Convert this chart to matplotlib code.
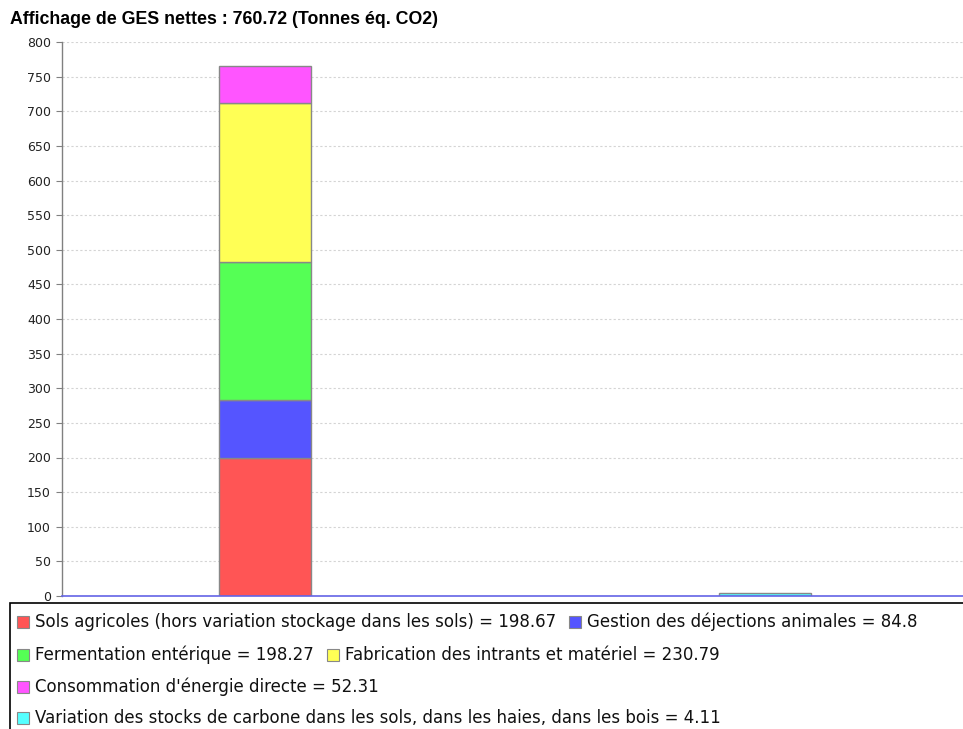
import matplotlib
matplotlib.use("Agg")
import matplotlib.pyplot as plt
from matplotlib.patches import Rectangle

# Emission categories, stacked on the first column, and the carbon stock change on the second
categories = ["Émissions", "Stockage"]
series_names = [
    "Sols agricoles (hors variation stockage dans les sols)",
    "Gestion des déjections animales",
    "Fermentation entérique",
    "Fabrication des intrants et matériel",
    "Consommation d'énergie directe",
    "Variation des stocks de carbone dans les sols, dans les haies, dans les bois",
]
series_values = [198.67, 84.8, 198.27, 230.79, 52.31, 4.11]
series_category = [0, 0, 0, 0, 0, 1]
series_colors = ["#ff5555", "#5555ff", "#55ff55", "#ffff55", "#ff55ff", "#55ffff"]
net_total = 760.72
title_text = f"Affichage de GES nettes : {net_total} (Tonnes éq. CO2)"
y_ticks = list(range(0, 801, 50))

# Legend rows (indices into the series)
legend_rows = [[0, 1], [2, 3], [4], [5]]

W, H = 963, 729
fig = plt.figure(figsize=(W / 100, H / 100), dpi=100)
fig.patch.set_facecolor("white")

# Plot area in pixel coordinates
left_px, top_px, bottom_px, right_px = 62, 42, 596, 968
ax = fig.add_axes([left_px / W, (H - bottom_px) / H,
                   (right_px - left_px) / W, (bottom_px - top_px) / H])

bar_width = 0.184
bottoms = [0.0] * len(categories)
for name, val, cat, col in zip(series_names, series_values, series_category, series_colors):
    ax.bar(cat, val, bottom=bottoms[cat], width=bar_width, color=col,
           edgecolor="#888888", linewidth=1.0, zorder=3)
    bottoms[cat] += val

ax.set_xlim(-0.406, 1.406)
ax.set_ylim(0, 800)
ax.set_yticks(y_ticks)
ax.set_yticklabels([str(t) for t in y_ticks], fontsize=9, family="DejaVu Sans",
                   color="#222222")
ax.set_xticks([])
ax.yaxis.grid(True, color="#d4d4d4", linestyle=(0, (2, 2)), linewidth=0.8, zorder=0)
ax.tick_params(axis="y", length=4, width=0.8, color="#808080", pad=4)

for s in ["top", "right"]:
    ax.spines[s].set_visible(False)
ax.spines["left"].set_color("#808080")
ax.spines["left"].set_linewidth(1.0)
ax.spines["bottom"].set_color("#6464e6")
ax.spines["bottom"].set_linewidth(1.2)
ax.spines["bottom"].set_zorder(4)

# Title
fig.text(10 / W, 1 - 19 / H, title_text, fontsize=12.8, fontweight="bold",
         family="Liberation Sans", ha="left", va="center")

# Legend frame
fig.patches.append(Rectangle((10 / W, -0.05), 1.2, (H - 603) / H + 0.05,
                             transform=fig.transFigure, facecolor="white",
                             edgecolor="black", linewidth=1.2, zorder=1))

fig.canvas.draw()
renderer = fig.canvas.get_renderer()
row_y = [622, 655, 687, 718]
sq = 12
for r, row in enumerate(legend_rows):
    x = 17
    yc = row_y[r]
    for idx in row:
        fig.patches.append(Rectangle((x / W, 1 - (yc + sq / 2) / H), sq / W, sq / H,
                                     transform=fig.transFigure,
                                     facecolor=series_colors[idx], edgecolor="#888888",
                                     linewidth=0.8, zorder=2))
        label = f"{series_names[idx]} = {series_values[idx]}"
        t = fig.text((x + 18) / W, 1 - yc / H, label, fontsize=12,
                     family="DejaVu Sans", ha="left", va="center", zorder=3,
                     color="#111111")
        bb = t.get_window_extent(renderer=renderer)
        x = bb.x1 + 13

fig.savefig("out.png", dpi=100)
